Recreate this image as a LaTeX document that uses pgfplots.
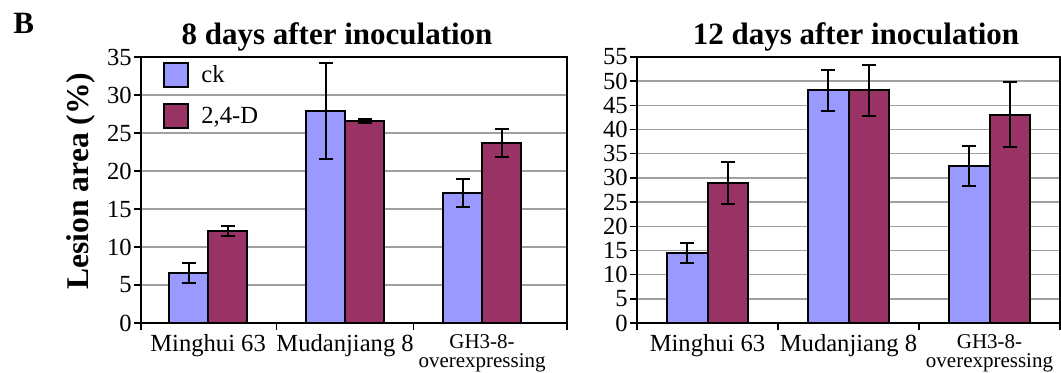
\documentclass[border=0pt]{standalone}
\usepackage{fontspec}
\setmainfont{Liberation Serif}
\usepackage{pgfplots}
\pgfplotsset{compat=1.18}
\definecolor{ckblue}{HTML}{9999FF}
\definecolor{dred}{HTML}{993366}
\definecolor{gridgray}{HTML}{A0A0A0}
\newcommand{\ghlabel}{{\fontsize{10.5}{8}\selectfont\begin{tabular}{@{}c@{}}\rule{0pt}{7.3pt}GH3-8-\\overexpressing\end{tabular}}}
\pgfplotsset{
  panel/.style={
    scale only axis, height=133pt, anchor=south west,
    ybar, ymin=0,
    /pgf/number format/assume math mode=true,
    axis line style={line width=1pt},
    tick pos=left, tick align=outside,
    ymajorgrids, grid style={gridgray, line width=0.75pt},
    major tick length=3.5pt, tick style={black, line width=0.75pt},
    xticklabels={,,,},
    extra x ticks={0,1,2},
    extra x tick labels={Minghui 63, Mudanjiang 8, \ghlabel},
    extra x tick style={major tick length=0pt},
    xticklabel style={font=\fontsize{12.3}{14}\selectfont, yshift=-2pt},
    yticklabel style={font=\fontsize{12.3}{13}\selectfont, inner xsep=1pt},
    legend image code/.code={\draw[#1, line width=1pt] (0pt,-6pt) rectangle (12pt,6pt);},
  },
  ebar/.style={error bars/.cd, y dir=both, y explicit,
    error bar style={line width=1pt, black},
    error mark options={line width=1pt, black, mark size=3.5pt, rotate=90}},
}
\begin{document}
\begin{tikzpicture}
\path[use as bounding box] (0,0) rectangle (530.5pt,186pt);
\begin{axis}[panel, at={(70.5pt,24.5pt)}, width=213pt,
  xmin=-0.49, xmax=2.62, ymax=35, ytick={0,5,...,35},
  xtick={-0.49,0.5,1.5,2.62}, bar width=0.285,
  legend style={at={(0,1)}, anchor=north west, xshift=11pt, yshift=-2.5pt,
    draw=none, fill=none, inner sep=0pt, row sep=7.5pt, column sep=6pt,
    font=\fontsize{12.3}{14}\selectfont, nodes={inner sep=0pt}, legend cell align=left}]
\addplot[fill=ckblue, draw=black, line width=1pt, bar shift=-0.1425, ebar]
  coordinates {(0,6.6) +- (0,1.3) (1,27.9) +- (0,6.3) (2,17.1) +- (0,1.85)};
\addlegendentry{ck}
\addplot[fill=dred, draw=black, line width=1pt, bar shift=0.1425, ebar]
  coordinates {(0,12.15) +- (0,0.68) (1,26.6) +- (0,0.3) (2,23.7) +- (0,1.85)};
\addlegendentry{2,4-D}
\end{axis}
\begin{axis}[panel, at={(318.5pt,24.5pt)}, width=211.5pt,
  xmin=-0.5, xmax=2.5, ymax=55, ytick={0,5,...,55},
  xtick={-0.5,0.5,1.5,2.5}, bar width=0.29]
\addplot[fill=ckblue, draw=black, line width=1pt, bar shift=-0.145, ebar]
  coordinates {(0,14.5) +- (0,2.1) (1,48.1) +- (0,4.2) (2,32.4) +- (0,4.15)};
\addplot[fill=dred, draw=black, line width=1pt, bar shift=0.145, ebar]
  coordinates {(0,29.0) +- (0,4.3) (1,48.1) +- (0,5.2) (2,43.1) +- (0,6.8)};
\end{axis}
\node[anchor=base, font=\fontsize{15.5}{18}\selectfont\bfseries] at (168.5pt,164pt) {8 days after inoculation};
\node[anchor=base, font=\fontsize{15.5}{18}\selectfont\bfseries] at (428pt,164pt) {12 days after inoculation};
\node[anchor=base, rotate=90, font=\fontsize{15.8}{18}\selectfont\bfseries] at (44pt,95.5pt) {Lesion area (\%)};
\node[anchor=base west, inner sep=0pt, font=\fontsize{15.5}{18}\selectfont\bfseries] at (6.5pt,169.5pt) {B};
\end{tikzpicture}
\end{document}
